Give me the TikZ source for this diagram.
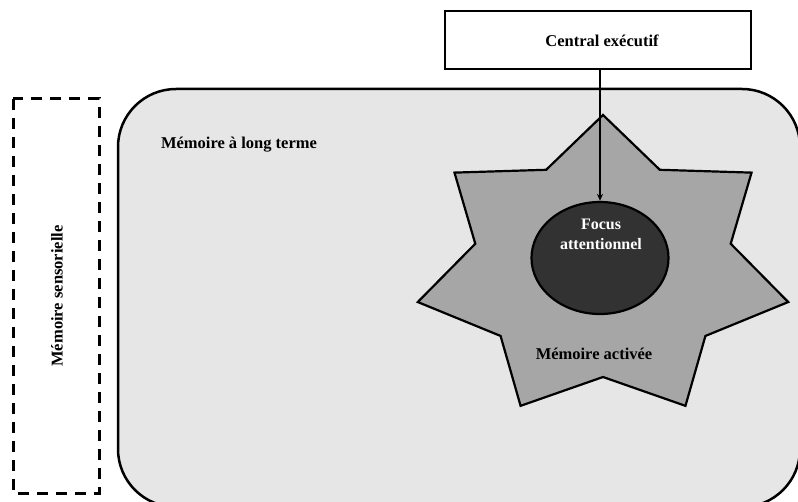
\documentclass[tikz,border=0pt]{standalone}
\usepackage{fontspec}
\setmainfont{Liberation Serif}
\usetikzlibrary{shapes.geometric,arrows.meta}
\definecolor{ltmfill}{HTML}{E6E6E6}
\definecolor{starfill}{HTML}{A6A6A6}
\definecolor{focusfill}{HTML}{323232}
\tikzset{
  lbl/.style={font=\fontsize{16.5}{20}\selectfont\bfseries, inner sep=0pt, align=center},
  ltm/.style={draw=black, line width=2.5pt, fill=ltmfill, rounded corners=58pt},
  sens/.style={draw=black, line width=3pt, dash pattern=on 11pt off 8pt},
  cebox/.style={draw=black, line width=2.2pt, fill=white, minimum width=306pt, minimum height=58pt, inner sep=0pt},
  memact/.style={draw=black, line width=2.2pt, fill=starfill, line join=miter},
  focusnode/.style={ellipse, draw=black, line width=2.2pt, fill=focusfill, minimum width=137pt, minimum height=112pt, inner sep=0pt},
  arr/.style={draw=black, line width=1.8pt, -{Stealth[length=7pt,width=6pt]}}
}
\begin{document}
\begin{tikzpicture}[x=1pt,y=-1pt]
\useasboundingbox (0,0) rectangle (798,502);
\clip (0,0) rectangle (798,502);
% long-term memory region
\draw[ltm] (118,89) rectangle (800,507);
\node[lbl] (ltmlabel) at (239,145) {Mémoire à long terme};
% sensory memory
\draw[sens] (13,99) rectangle (99,493);
\node[lbl, rotate=90] (senslabel) at (57,296) {Mémoire sensorielle};
% activated memory star
\draw[memact] (603,115) \foreach \k in {0,...,6}{
  -- ({603+131*cos(90-(\k+0.5)*360/7)},{268-109*sin(90-(\k+0.5)*360/7)})
  -- ({603+190*cos(90-(\k+1)*360/7)},{268-153*sin(90-(\k+1)*360/7)}) } -- cycle;
\node[lbl] (actlabel) at (594,354) {Mémoire activée};
% focus
\node[focusnode] (focus) at (600,258) {};
\node[lbl, text=white, font=\fontsize{16}{20}\selectfont\bfseries] (focuslabel) at (601,234) {Focus\\attentionnel};
% central executive
\node[cebox] (ce) at (598,40) {};
\node[lbl] (celabel) at (602,41) {Central exécutif};
\draw[arr] (ce.south -| focus.north) -- (focus.north);
\end{tikzpicture}
\end{document}
